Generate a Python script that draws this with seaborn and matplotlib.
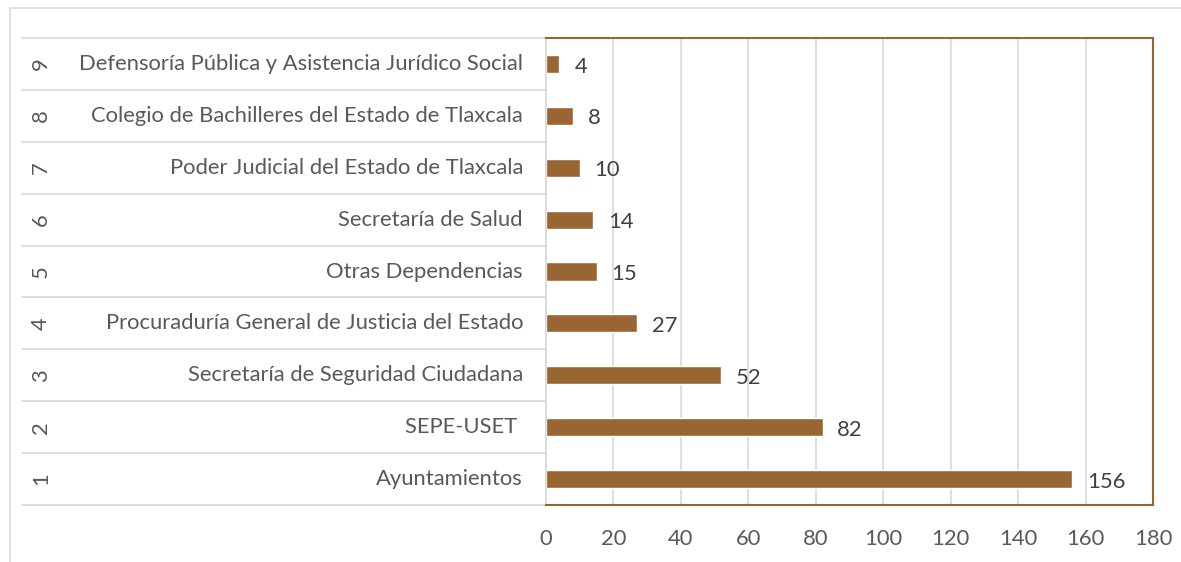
import matplotlib
matplotlib.use("Agg")
import matplotlib.pyplot as plt
import seaborn as sns
import pandas as pd
from matplotlib.patches import Rectangle

ranks = ["1", "2", "3", "4", "5", "6", "7", "8", "9"]
categories = [
    "Ayuntamientos",
    "SEPE-USET ",
    "Secretaría de Seguridad Ciudadana",
    "Procuraduría General de Justicia del Estado",
    "Otras Dependencias",
    "Secretaría de Salud",
    "Poder Judicial del Estado de Tlaxcala",
    "Colegio de Bachilleres del Estado de Tlaxcala",
    "Defensoría Pública y Asistencia Jurídico Social",
]
values = [156, 82, 52, 27, 15, 14, 10, 8, 4]
xticks = [0, 20, 40, 60, 80, 100, 120, 140, 160, 180]

sns.set_theme(style="white")
plt.rcParams["font.family"] = ["Lato", "DejaVu Sans"]

W, H = 1181, 562
fig = plt.figure(figsize=(W / 100, H / 100), dpi=100)
ax = fig.add_axes([546 / W, 1 - 505 / H, (1153 - 546) / W, (505 - 38) / H])

df = pd.DataFrame({"cat": categories, "val": values, "rank": ranks})
order = categories[::-1]
sns.barplot(data=df, x="val", y="cat", order=order, color="#996633",
            width=0.35, saturation=1, ax=ax)

text_color = "#595959"
fs = 15.8
ax.set_xlim(0, 180)
ax.set_xticks(xticks)
ax.set_xticklabels([str(t) for t in xticks], fontsize=fs, color=text_color)
ax.tick_params(axis="x", length=0, pad=17)
ax.set_yticks([])
ax.set_xlabel("")
ax.set_ylabel("")
ax.set_ylim(len(categories) - 0.5, -0.5)
ax.xaxis.grid(True, color="#d9d9d9", linewidth=1.2)
ax.set_axisbelow(True)

for s in ["top", "right", "bottom"]:
    ax.spines[s].set_color("#996633")
    ax.spines[s].set_linewidth(1.5)
ax.spines["left"].set_color("#d9d9d9")
ax.spines["left"].set_linewidth(1.2)

for i, cat in enumerate(order):
    v = values[categories.index(cat)]
    r = ranks[categories.index(cat)]
    ax.text(v + 4.4, i + 0.05, str(v), va="center", ha="left", fontsize=fs, color="#404040")
    ax.text(-23 / 607, i, cat, transform=ax.get_yaxis_transform(), ha="right",
            va="center", fontsize=fs, color=text_color, clip_on=False)
    ax.text(-505 / 607, i, r, transform=ax.get_yaxis_transform(), ha="center",
            va="center", fontsize=fs, color=text_color, rotation=90, clip_on=False)

trans = ax.get_yaxis_transform()
for b in range(len(categories) + 1):
    y = b - 0.5
    ax.plot([-524 / 607, 0], [y, y], transform=trans, color="#d9d9d9",
            linewidth=1.2, clip_on=False)

fig.patches.append(Rectangle((10 / W, -0.1), 1.2, (562 - 8) / H + 0.1,
                             transform=fig.transFigure, fill=False,
                             edgecolor="#d9d9d9", linewidth=1.2))

fig.savefig("out.png", dpi=100, facecolor="white")
